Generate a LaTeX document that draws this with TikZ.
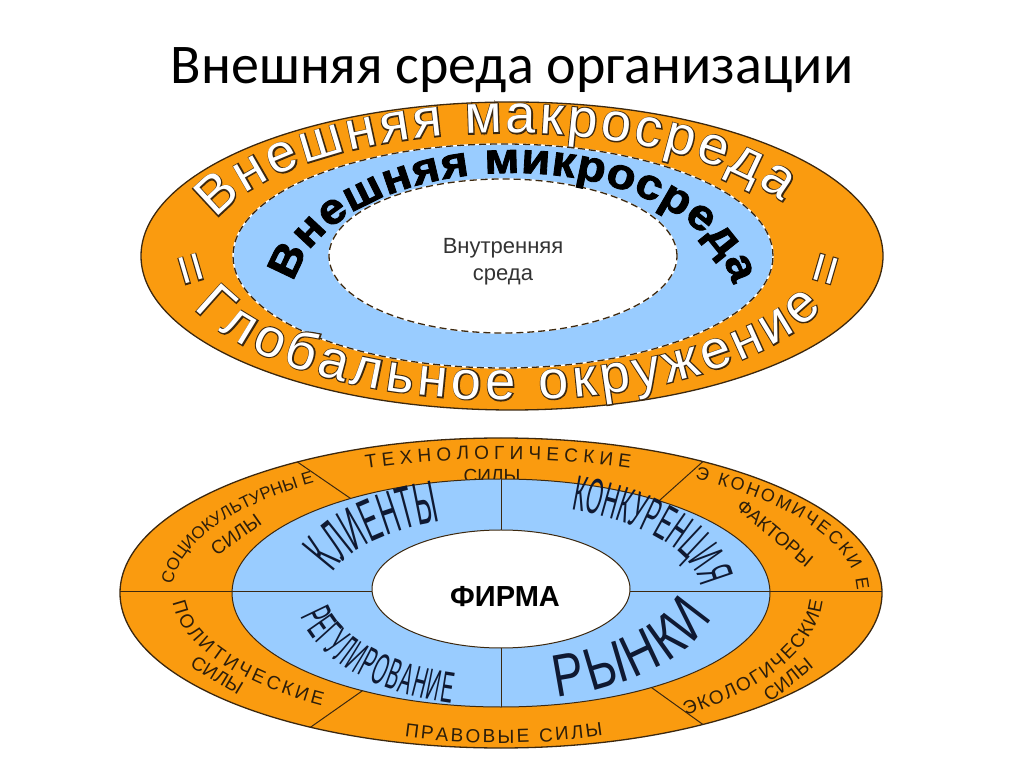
\documentclass[tikz,border=0pt]{standalone}
\usepackage{fontspec}
\setmainfont{Liberation Sans}
\newfontfamily\titleFamily{Carlito}
\newfontfamily\edgeFamily[FakeBold=4]{Liberation Sans}
\newfontfamily\heavyFamily[FakeBold=2, FakeStretch=1.1]{Liberation Sans Bold}
\newfontfamily\narrowFamily[FakeStretch=0.42]{Liberation Sans}
\newfontfamily\marketFamily[FakeStretch=0.78]{Liberation Sans}
\usetikzlibrary{decorations.text}
\definecolor{ringOrange}{RGB}{250,155,15}
\definecolor{ringBlue}{RGB}{153,204,255}
\definecolor{ringEdge}{RGB}{60,40,15}
\definecolor{sectorInk}{RGB}{45,30,10}
\definecolor{zoneInk}{RGB}{15,25,50}
\tikzstyle{orangeRing} = [fill=ringOrange, draw=ringEdge, line width=1.3pt]
\tikzstyle{blueRing} = [fill=ringBlue, draw=ringEdge, line width=1pt]
\tikzstyle{coreRing} = [fill=white, draw=ringEdge, line width=1pt]
\tikzstyle{whiteEdge} = [draw=white, line width=1.4pt]
\tikzstyle{dashedEdge} = [draw=ringEdge, line width=1.3pt, dash pattern=on 7pt off 4pt]
\tikzstyle{sectorLine} = [draw=ringEdge, line width=1pt]
\tikzstyle{sectorWord} = [text=sectorInk, font=\fontsize{19}{19}\selectfont, inner sep=0pt]
\tikzstyle{titleText} = [font=\titleFamily\fontsize{56}{56}\selectfont]
\newcommand{\macroFont}{\fontsize{54}{54}\selectfont}
\newcommand{\macroEdgeFont}{\edgeFamily\fontsize{54}{54}\selectfont}
\newcommand{\microFont}{\heavyFamily\fontsize{43}{43}\selectfont}
\newcommand{\sectorFont}{\fontsize{19}{19}\selectfont}
\newcommand{\ringText}[3]{\path [decorate, decoration={text along path, text align={fit to path}, text color=#1, text={#2}}] #3;}
\newcommand{\centerText}[3]{\path [decorate, decoration={text along path, text align=center, text color=#1, text={#2}}] #3;}
\newcommand{\outlineText}[2]{
  \ringText{ringEdge}{|\macroEdgeFont|#1}{#2}
  \ringText{white}{|\macroFont|#1}{#2}
}

\begin{document}
\begin{tikzpicture}[x=1pt, y=1pt]
\useasboundingbox (0,0) rectangle (1024,768);

\node [titleText, anchor=base] (title) at (512,684) {Внешняя среда организации};

% upper picture
\coordinate (macroCenter) at (512,512);
\coordinate (microCenter) at (503,512);
\coordinate (textCenter) at (508,512);
\coordinate (boldCenter) at (513,468);
\filldraw [orangeRing] (macroCenter) ellipse [x radius=371, y radius=154];
\filldraw [fill=ringBlue, whiteEdge] (microCenter) ellipse [x radius=270, y radius=112];
\draw [dashedEdge] (microCenter) ellipse [x radius=270, y radius=112];
\filldraw [fill=white, whiteEdge] (microCenter) ellipse [x radius=174, y radius=77];
\draw [dashedEdge] (microCenter) ellipse [x radius=174, y radius=77];

\outlineText{Внешняя макросреда}{([shift={(163:305 and 123)}]textCenter) arc [start angle=163, end angle=26, x radius=305, y radius=123]}
\outlineText{= Глобальное окружение =}{([shift={(181:337 and 144)}]textCenter) arc [start angle=181, end angle=359, x radius=337, y radius=144]}
\ringText{black}{|\microFont|Внешняя микросреда}{([shift={(172:221 and 127)}]boldCenter) arc [start angle=172, end angle=7, x radius=221, y radius=127]}
\node [text=black!80, align=center, font=\fontsize{22}{27}\selectfont] (inner) at (503,506) {Внутренняя\\среда};

% lower picture
\coordinate (firm) at (501,175);
\filldraw [orangeRing] (firm) ellipse [x radius=381, y radius=155];

\ringText{sectorInk}{|\sectorFont|ТЕХНОЛОГИЧЕСКИЕ}{([shift={(112:360 and 134)}]firm) arc [start angle=112, end angle=69, x radius=360, y radius=134]}
\node [sectorWord, anchor=base] (techSecond) at (492,285) {СИЛЫ};
\centerText{sectorInk}{|\fontsize{17}{17}\selectfont|СОЦИОКУЛЬТУРНЫ Е}{([shift={(184:329 and 134)}]firm) arc [start angle=184, end angle=121, x radius=329, y radius=134]}
\node [sectorWord, rotate=35] (socialSecond) at (236,233) {СИЛЫ};
\ringText{sectorInk}{|\fontsize{18}{18}\selectfont|Э КОНОМИЧЕСКИ Е}{([shift={(57:356 and 137)}]firm) arc [start angle=57, end angle=1, x radius=356, y radius=137]}
\node [sectorWord, rotate=-40] (econSecond) at (775,235) {ФАКТОРЫ};
\ringText{sectorInk}{|\sectorFont|ПОЛИТИЧЕСКИЕ}{([shift={(184:329 and 134)}]firm) arc [start angle=184, end angle=237, x radius=329, y radius=134]}
\node [sectorWord, rotate=-31] (politSecond) at (217,93) {СИЛЫ};
\ringText{sectorInk}{|\sectorFont|ПРАВОВЫЕ СИЛЫ}{([shift={(253:330 and 150)}]firm) arc [start angle=253, end angle=288, x radius=330, y radius=150]}
\ringText{sectorInk}{|\sectorFont|ЭКОЛОГИЧЕСКИЕ}{([shift={(-55:322 and 150)}]firm) arc [start angle=-55, end angle=-3, x radius=322, y radius=150]}
\node [sectorWord, rotate=39] (ecoSecond) at (788,88) {СИЛЫ};

\filldraw [blueRing] (firm) ellipse [x radius=269, y radius=114];
\draw [sectorLine] ([shift={(124:269 and 114)}]firm) -- ([shift={(122.3:381 and 155)}]firm);
\draw [sectorLine] ([shift={(54:269 and 114)}]firm) -- ([shift={(58:381 and 155)}]firm);
\draw [sectorLine] ([shift={(239:269 and 114)}]firm) -- ([shift={(240:381 and 155)}]firm);
\draw [sectorLine] ([shift={(-56:269 and 114)}]firm) -- ([shift={(-58:381 and 155)}]firm);
\draw [sectorLine] (120,176) -- (882,176);
\draw [sectorLine] (501,289) -- (501,61);

\centerText{zoneInk}{|\narrowFamily\fontsize{60}{60}\selectfont|КЛИЕНТЫ}{([shift={(174:174 and 76)}]firm) arc [start angle=174, end angle=106, x radius=174, y radius=76]}
\centerText{zoneInk}{|\narrowFamily\fontsize{50}{50}\selectfont|КОНКУРЕНЦИЯ}{([shift={(72:200 and 89)}]firm) arc [start angle=72, end angle=-2, x radius=200, y radius=89]}
\ringText{zoneInk}{|\narrowFamily\fontsize{44}{44}\selectfont|РЕГУЛИРОВАНИЕ}{([shift={(192:205 and 114)}]firm) arc [start angle=192, end angle=256, x radius=205, y radius=114]}
\ringText{zoneInk}{|\marketFamily\fontsize{60}{60}\selectfont|РЫНКИ}{([shift={(-75:216 and 108)}]firm) arc [start angle=-75, end angle=-13, x radius=216, y radius=108]}

\filldraw [coreRing] (501,179) ellipse [x radius=129, y radius=59];
\node [font=\bfseries\fontsize{29}{29}\selectfont] (firmName) at (505,171) {ФИРМА};
\end{tikzpicture}
\end{document}
